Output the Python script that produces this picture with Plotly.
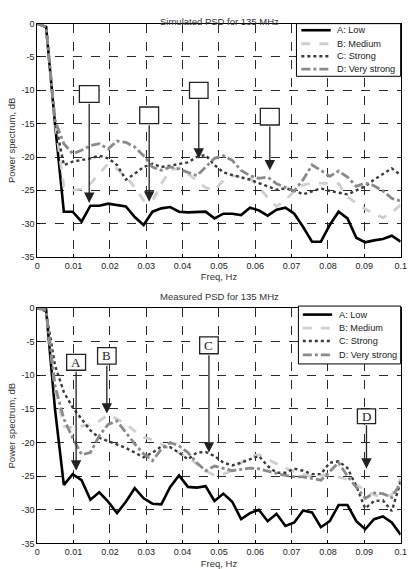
import plotly.graph_objects as go

# ---------------- data ----------------
freq = [0.0, 0.00244, 0.00488, 0.00732, 0.00976, 0.0122, 0.01463, 0.01707, 0.01951, 0.02195,
        0.02439, 0.02683, 0.02927, 0.03171, 0.03415, 0.03659, 0.03902, 0.04146, 0.0439, 0.04634,
        0.04878, 0.05122, 0.05366, 0.0561, 0.05854, 0.06098, 0.06341, 0.06585, 0.06829, 0.07073,
        0.07317, 0.07561, 0.07805, 0.08049, 0.08293, 0.08537, 0.0878, 0.09024, 0.09268, 0.09512,
        0.09756, 0.1]

series_names = ["A: Low", "B: Medium", "C: Strong", "D: Very strong"]

sim_low = [0, -0.5, -15.0, -28.2, -28.2, -29.7, -27.3, -27.3, -27.0, -27.2,
           -27.4, -29.0, -30.2, -28.2, -27.7, -27.5, -28.2, -28.3, -28.3, -28.2,
           -29.2, -28.5, -28.5, -28.7, -27.6, -28.0, -28.8, -27.9, -27.6, -28.5,
           -30.5, -32.7, -32.7, -30.2, -28.2, -29.2, -32.1, -32.8, -32.5, -32.3,
           -31.8, -32.7]
sim_medium = [0, -0.5, -14.5, -24.5, -25.0, -24.8, -24.0, -22.5, -21.0, -21.8,
              -23.0, -24.5, -26.5, -26.6, -24.0, -22.0, -21.6, -22.5, -23.5, -24.6,
              -25.0, -23.5, -22.8, -23.0, -23.2, -24.5, -26.1, -27.4, -26.5, -25.1,
              -24.2, -23.9, -23.9, -23.9, -24.0, -26.0, -26.9, -27.8, -28.5, -29.1,
              -28.3, -27.2]
sim_strong = [0, -0.5, -14.5, -21.2, -20.7, -20.5, -20.2, -19.8, -20.2, -21.2,
              -23.4, -22.5, -21.5, -21.0, -21.5, -21.3, -21.0, -20.8, -20.0, -19.7,
              -21.2, -22.3, -22.7, -23.0, -23.4, -23.9, -24.4, -24.9, -24.7, -25.0,
              -25.6, -25.2, -24.7, -25.1, -25.4, -25.6, -25.0, -24.4, -23.4, -22.5,
              -21.7, -22.7]
sim_vstrong = [0, -0.5, -14.5, -18.0, -19.5, -19.0, -18.3, -18.0, -18.8, -17.6,
               -17.8, -18.5, -19.8, -21.5, -22.0, -21.5, -21.8, -22.3, -22.8, -21.5,
               -20.2, -19.8, -20.5, -22.0, -22.8, -23.2, -23.0, -24.0, -24.6, -25.1,
               -23.4, -21.2, -22.0, -22.9, -22.1, -23.0, -24.4, -23.9, -24.3, -25.1,
               -26.2, -26.6]

meas_low = [0, -0.2, -15.0, -26.3, -24.7, -25.6, -28.5, -27.4, -28.8, -30.5,
            -28.8, -26.8, -28.3, -29.1, -29.2, -26.6, -24.9, -26.6, -26.7, -26.5,
            -28.7, -27.6, -28.8, -31.4, -30.5, -30.0, -31.7, -30.6, -32.4, -31.9,
            -30.1, -30.4, -32.6, -31.7, -29.3, -29.3, -31.7, -32.9, -31.4, -31.0,
            -31.9, -33.7]
meas_medium = [0, -0.3, -12.0, -17.6, -17.8, -17.5, -17.3, -16.8, -15.9, -16.5,
               -17.2, -18.3, -19.2, -19.6, -20.2, -21.0, -21.5, -22.2, -23.2, -24.2,
               -24.9, -24.7, -24.2, -23.0, -22.0, -21.8, -22.5, -23.2, -23.8, -24.3,
               -24.7, -25.1, -24.9, -24.8, -25.1, -25.5, -26.3, -27.1, -27.8, -28.1,
               -27.8, -25.4]
meas_strong = [0, -0.5, -8.5, -12.5, -14.8, -16.5, -18.2, -19.3, -19.8, -20.3,
               -20.8, -21.5, -22.2, -21.5, -20.6, -20.7, -21.5, -22.5, -21.5, -21.4,
               -22.0, -23.0, -23.4, -23.0, -22.5, -22.0, -23.5, -24.5, -24.5, -23.9,
               -24.2, -24.7, -24.7, -23.0, -22.8, -23.8, -26.5, -29.8, -28.7, -28.6,
               -30.2, -25.8]
meas_vstrong = [0, -0.3, -11.5, -16.5, -19.3, -21.8, -21.5, -19.0, -17.3, -16.8,
                -18.5, -20.2, -21.7, -22.7, -21.0, -20.0, -20.5, -21.5, -23.0, -24.2,
                -23.5, -23.8, -24.2, -24.0, -23.8, -23.9, -24.3, -24.6, -24.9, -25.1,
                -25.1, -25.3, -25.6, -24.3, -23.0, -25.0, -26.6, -28.3, -27.5, -27.6,
                -28.2, -26.0]

x_ticks = [0, 0.01, 0.02, 0.03, 0.04, 0.05, 0.06, 0.07, 0.08, 0.09, 0.1]
x_tick_labels = ["0", "0.01", "0.02", "0.03", "0.04", "0.05", "0.06", "0.07", "0.08", "0.09", "0.1"]
y_ticks = [0, -5, -10, -15, -20, -25, -30, -35]
y_tick_labels = ["0", "-5", "-10", "-15", "-20", "-25", "-30", "-35"]

# callout boxes: (x0, x1, y_top, y_bottom, arrow tip y, label)
sim_callouts = [
    (0.0116, 0.0170, -9.3, -11.8, -26.9, ""),
    (0.0282, 0.0334, -12.5, -15.0, -26.7, ""),
    (0.0419, 0.0470, -8.8, -11.2, -20.25, ""),
    (0.0614, 0.0666, -12.7, -15.2, -22.0, ""),
]
meas_callouts = [
    (0.0081, 0.0133, -6.9, -9.25, -24.2, "A"),
    (0.0166, 0.0217, -5.9, -8.35, -15.7, "B"),
    (0.0447, 0.0498, -4.3, -6.8, -21.5, "C"),
    (0.0881, 0.0931, -15.0, -17.2, -23.9, "D"),
]

# ---------------- styling ----------------
W, H = 413, 569
styles = [
    dict(color="#000000", width=2.6, dash="solid"),
    dict(color="#cfcfcf", width=2.8, dash="dash"),
    dict(color="#3a3a3a", width=2.4, dash="dot"),
    dict(color="#8a8a8a", width=2.8, dash="dashdot"),
]
FONT = "Liberation Sans, Arial, sans-serif"


def py(p):
    return 1 - p / H


def px(p):
    return p / W


fig = go.Figure()

panels = [
    ("x", "y", [sim_low, sim_medium, sim_strong, sim_vstrong]),
    ("x2", "y2", [meas_low, meas_medium, meas_strong, meas_vstrong]),
]
for xa, ya, data in panels:
    for name, vals, st in zip(series_names, data, styles):
        fig.add_trace(go.Scatter(x=freq, y=vals, mode="lines", name=name,
                                 line=st, xaxis=xa, yaxis=ya, showlegend=False))

shapes = []
annotations = []
for (xr, yr, callouts) in [("x", "y", sim_callouts), ("x2", "y2", meas_callouts)]:
    for x0, x1, yt, yb, tip, lab in callouts:
        xc = (x0 + x1) / 2
        annotations.append(dict(x=xc, y=tip, ax=xc, ay=yb, xref=xr, yref=yr,
                                axref=xr, ayref=yr, text="", showarrow=True,
                                arrowhead=2, arrowsize=1.6, arrowwidth=1.3,
                                arrowcolor="#222222"))
        shapes.append(dict(type="rect", xref=xr, yref=yr, x0=x0, x1=x1, y0=yb, y1=yt,
                           line=dict(color="#222222", width=1.3), fillcolor="white",
                           layer="above"))
        if lab:
            annotations.append(dict(x=xc, y=(yt + yb) / 2, xref=xr, yref=yr, text=lab,
                                    showarrow=False,
                                    font=dict(family="Liberation Serif, DejaVu Serif, serif",
                                              size=13, color="#222222")))

# legends (drawn as boxes with line samples and text)
legend_specs = [
    # box x0, x1, y0, y1 (px), item centre y list, sample x0, x1, text x
    (300, 406.5, 19, 72.7, [25.7, 39.5, 52.3, 65.3], 305, 335, 339),
    (302, 406.5, 307, 366, [315.7, 329.5, 342.7, 356.7], 306.5, 336.5, 341.5),
]
for bx0, bx1, by0, by1, ys, sx0, sx1, tx in legend_specs:
    shapes.append(dict(type="rect", xref="paper", yref="paper",
                       x0=px(bx0), x1=px(bx1), y0=py(by1), y1=py(by0),
                       line=dict(color="black", width=1), fillcolor="white", layer="above"))
    for name, st, yc in zip(series_names, styles, ys):
        shapes.append(dict(type="line", xref="paper", yref="paper",
                           x0=px(sx0), x1=px(sx1), y0=py(yc), y1=py(yc),
                           line=dict(color=st["color"], width=st["width"], dash=st["dash"]),
                           layer="above"))
        annotations.append(dict(x=px(tx), y=py(yc), xref="paper", yref="paper", text=name,
                                showarrow=False, xanchor="left", yanchor="middle",
                                font=dict(family=FONT, size=9.2, color="#222222")))

# titles
annotations += [
    dict(x=0.535, y=py(9), xref="paper", yref="paper", text="Simulated PSD for 135 MHz",
         showarrow=False, font=dict(family=FONT, size=9.5, color="#333333")),
    dict(x=0.535, y=py(297), xref="paper", yref="paper", text="Measured PSD for 135 MHz",
         showarrow=False, font=dict(family=FONT, size=9.5, color="#333333")),
]

axis_common = dict(showline=True, linecolor="black", linewidth=1, mirror=True,
                   showgrid=True, gridcolor="#2a2a2a", gridwidth=1, griddash="dash",
                   zeroline=False, ticks="inside", ticklen=3, tickcolor="black",
                   tickfont=dict(family=FONT, size=9, color="#222222"))
title_font = dict(family=FONT, size=9.5, color="#333333")

xd = [px(35), px(406.5)]
fig.update_layout(
    width=W, height=H,
    margin=dict(l=0, r=0, t=0, b=0),
    paper_bgcolor="white", plot_bgcolor="white",
    showlegend=False,
    xaxis=dict(domain=xd, range=[0, 0.1], tickvals=x_ticks, ticktext=x_tick_labels,
               anchor="y", title=dict(text="Freq, Hz", standoff=3, font=title_font),
               **axis_common),
    yaxis=dict(domain=[py(257), py(19)], range=[-35, 0], tickvals=y_ticks,
               ticktext=y_tick_labels, anchor="x",
               title=dict(text="Power spectrum, dB", standoff=4, font=title_font),
               **axis_common),
    xaxis2=dict(domain=xd, range=[0, 0.1], tickvals=x_ticks, ticktext=x_tick_labels,
                anchor="y2", title=dict(text="Freq, Hz", standoff=5, font=title_font),
                **axis_common),
    yaxis2=dict(domain=[py(549), py(309)], range=[-35, 0], tickvals=y_ticks,
                ticktext=y_tick_labels, anchor="x2",
                title=dict(text="Power spectrum, dB", standoff=4, font=title_font),
                **axis_common),
    shapes=shapes,
    annotations=annotations,
)

fig.write_html("out.html")
